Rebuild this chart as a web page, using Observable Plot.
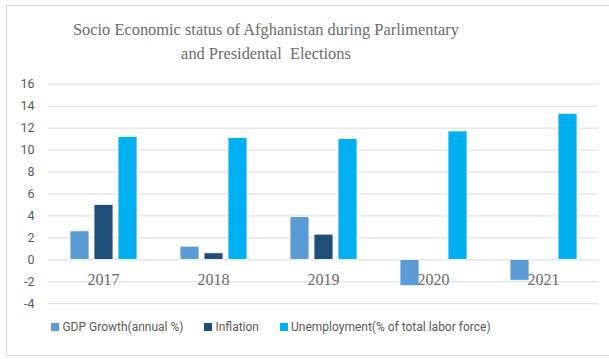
<!DOCTYPE html>
<html>
<head>
<meta charset="utf-8">
<script src="https://cdn.jsdelivr.net/npm/d3@7"></script>
<script src="https://cdn.jsdelivr.net/npm/@observablehq/plot@0.6"></script>
<style>
  html, body { margin: 0; padding: 0; background: #fff; }
  #page { position: relative; width: 609px; height: 359px; overflow: hidden; }
  #frame { position: absolute; left: 6px; top: 5px; width: 620px; height: 351px; border: 1px solid #d9d9d9; box-sizing: border-box; }
  #title { position: absolute; left: 0; top: 18px; width: 532px; text-align: center;
           font-family: "Liberation Serif", serif; font-size: 16.4px; line-height: 24px; color: #6b6b6b; white-space: pre; }
  #chart { position: absolute; left: 0; top: 70px; }
  #legend { position: absolute; left: 0; top: 320px; width: 542px; display: flex; justify-content: center; gap: 21px;
            font-family: Roboto, sans-serif; font-size: 12px; color: #595959; }
  .item { display: flex; align-items: center; gap: 3px; }
  .sw { width: 8px; height: 8px; display: inline-block; }
</style>
</head>
<body>
<div id="page">
  <div id="frame"></div>
  <div id="title"></div>
  <div id="chart"></div>
  <div id="legend"></div>
</div>
<script>
const titleLines = ["Socio Economic status of Afghanistan during Parlimentary", "and Presidental  Elections"];
const years = ["2017", "2018", "2019", "2020", "2021"];
const seriesNames = ["GDP Growth(annual %)", "Inflation", "Unemployment(% of total labor force)"];
const seriesColors = ["#5B9BD5", "#1F4E79", "#00B0F0"];
const gdpGrowth = [2.6, 1.2, 3.9, -2.4, -1.9];
const inflation = [5.0, 0.6, 2.3, null, null];
const unemployment = [11.2, 11.1, 11.0, 11.7, 13.3];
const yTicks = [-4, -2, 0, 2, 4, 6, 8, 10, 12, 14, 16];

const seriesValues = [gdpGrowth, inflation, unemployment];
const rows = [];
years.forEach((yr, i) => {
  seriesNames.forEach((s, j) => {
    const v = seriesValues[j][i];
    if (v != null) rows.push({year: yr, series: s, value: v});
  });
});

document.getElementById("title").textContent = titleLines.join("\n");

const plot = Plot.plot({
  width: 609,
  height: 245,
  marginLeft: 46,
  marginRight: 9,
  marginTop: 13.7,
  marginBottom: 11.7,
  style: {fontFamily: "Roboto, sans-serif", fontSize: "12px", color: "#595959", background: "transparent"},
  fx: {domain: years, padding: 0, axis: null},
  x: {domain: seriesNames, paddingInner: 0.22, paddingOuter: 0.826, axis: null},
  y: {domain: [-4, 16], ticks: yTicks, label: null},
  color: {domain: seriesNames, range: seriesColors},
  marks: [
    Plot.ruleY(yTicks, {stroke: "#d9d9d9", strokeWidth: 1}),
    Plot.axisY({ticks: yTicks, tickSize: 0, tickPadding: 14, label: null, fill: "#595959", fontSize: 12.5, tickFormat: d => String(d)}),
    Plot.barY(rows, {fx: "year", x: "series", y: "value", fill: "series", stroke: "white", strokeWidth: 0.8}),
    Plot.text(years, {fx: d => d, y: 0, text: d => d, dy: 20, fontFamily: "Liberation Serif, serif", fontSize: 16, fill: "#6b6b6b"})
  ]
});
document.getElementById("chart").appendChild(plot);

const legend = document.getElementById("legend");
seriesNames.forEach((s, i) => {
  const it = document.createElement("div");
  it.className = "item";
  const sw = document.createElement("span");
  sw.className = "sw";
  sw.style.background = seriesColors[i];
  const t = document.createElement("span");
  t.textContent = s;
  it.appendChild(sw); it.appendChild(t);
  legend.appendChild(it);
});
</script>
</body>
</html>
